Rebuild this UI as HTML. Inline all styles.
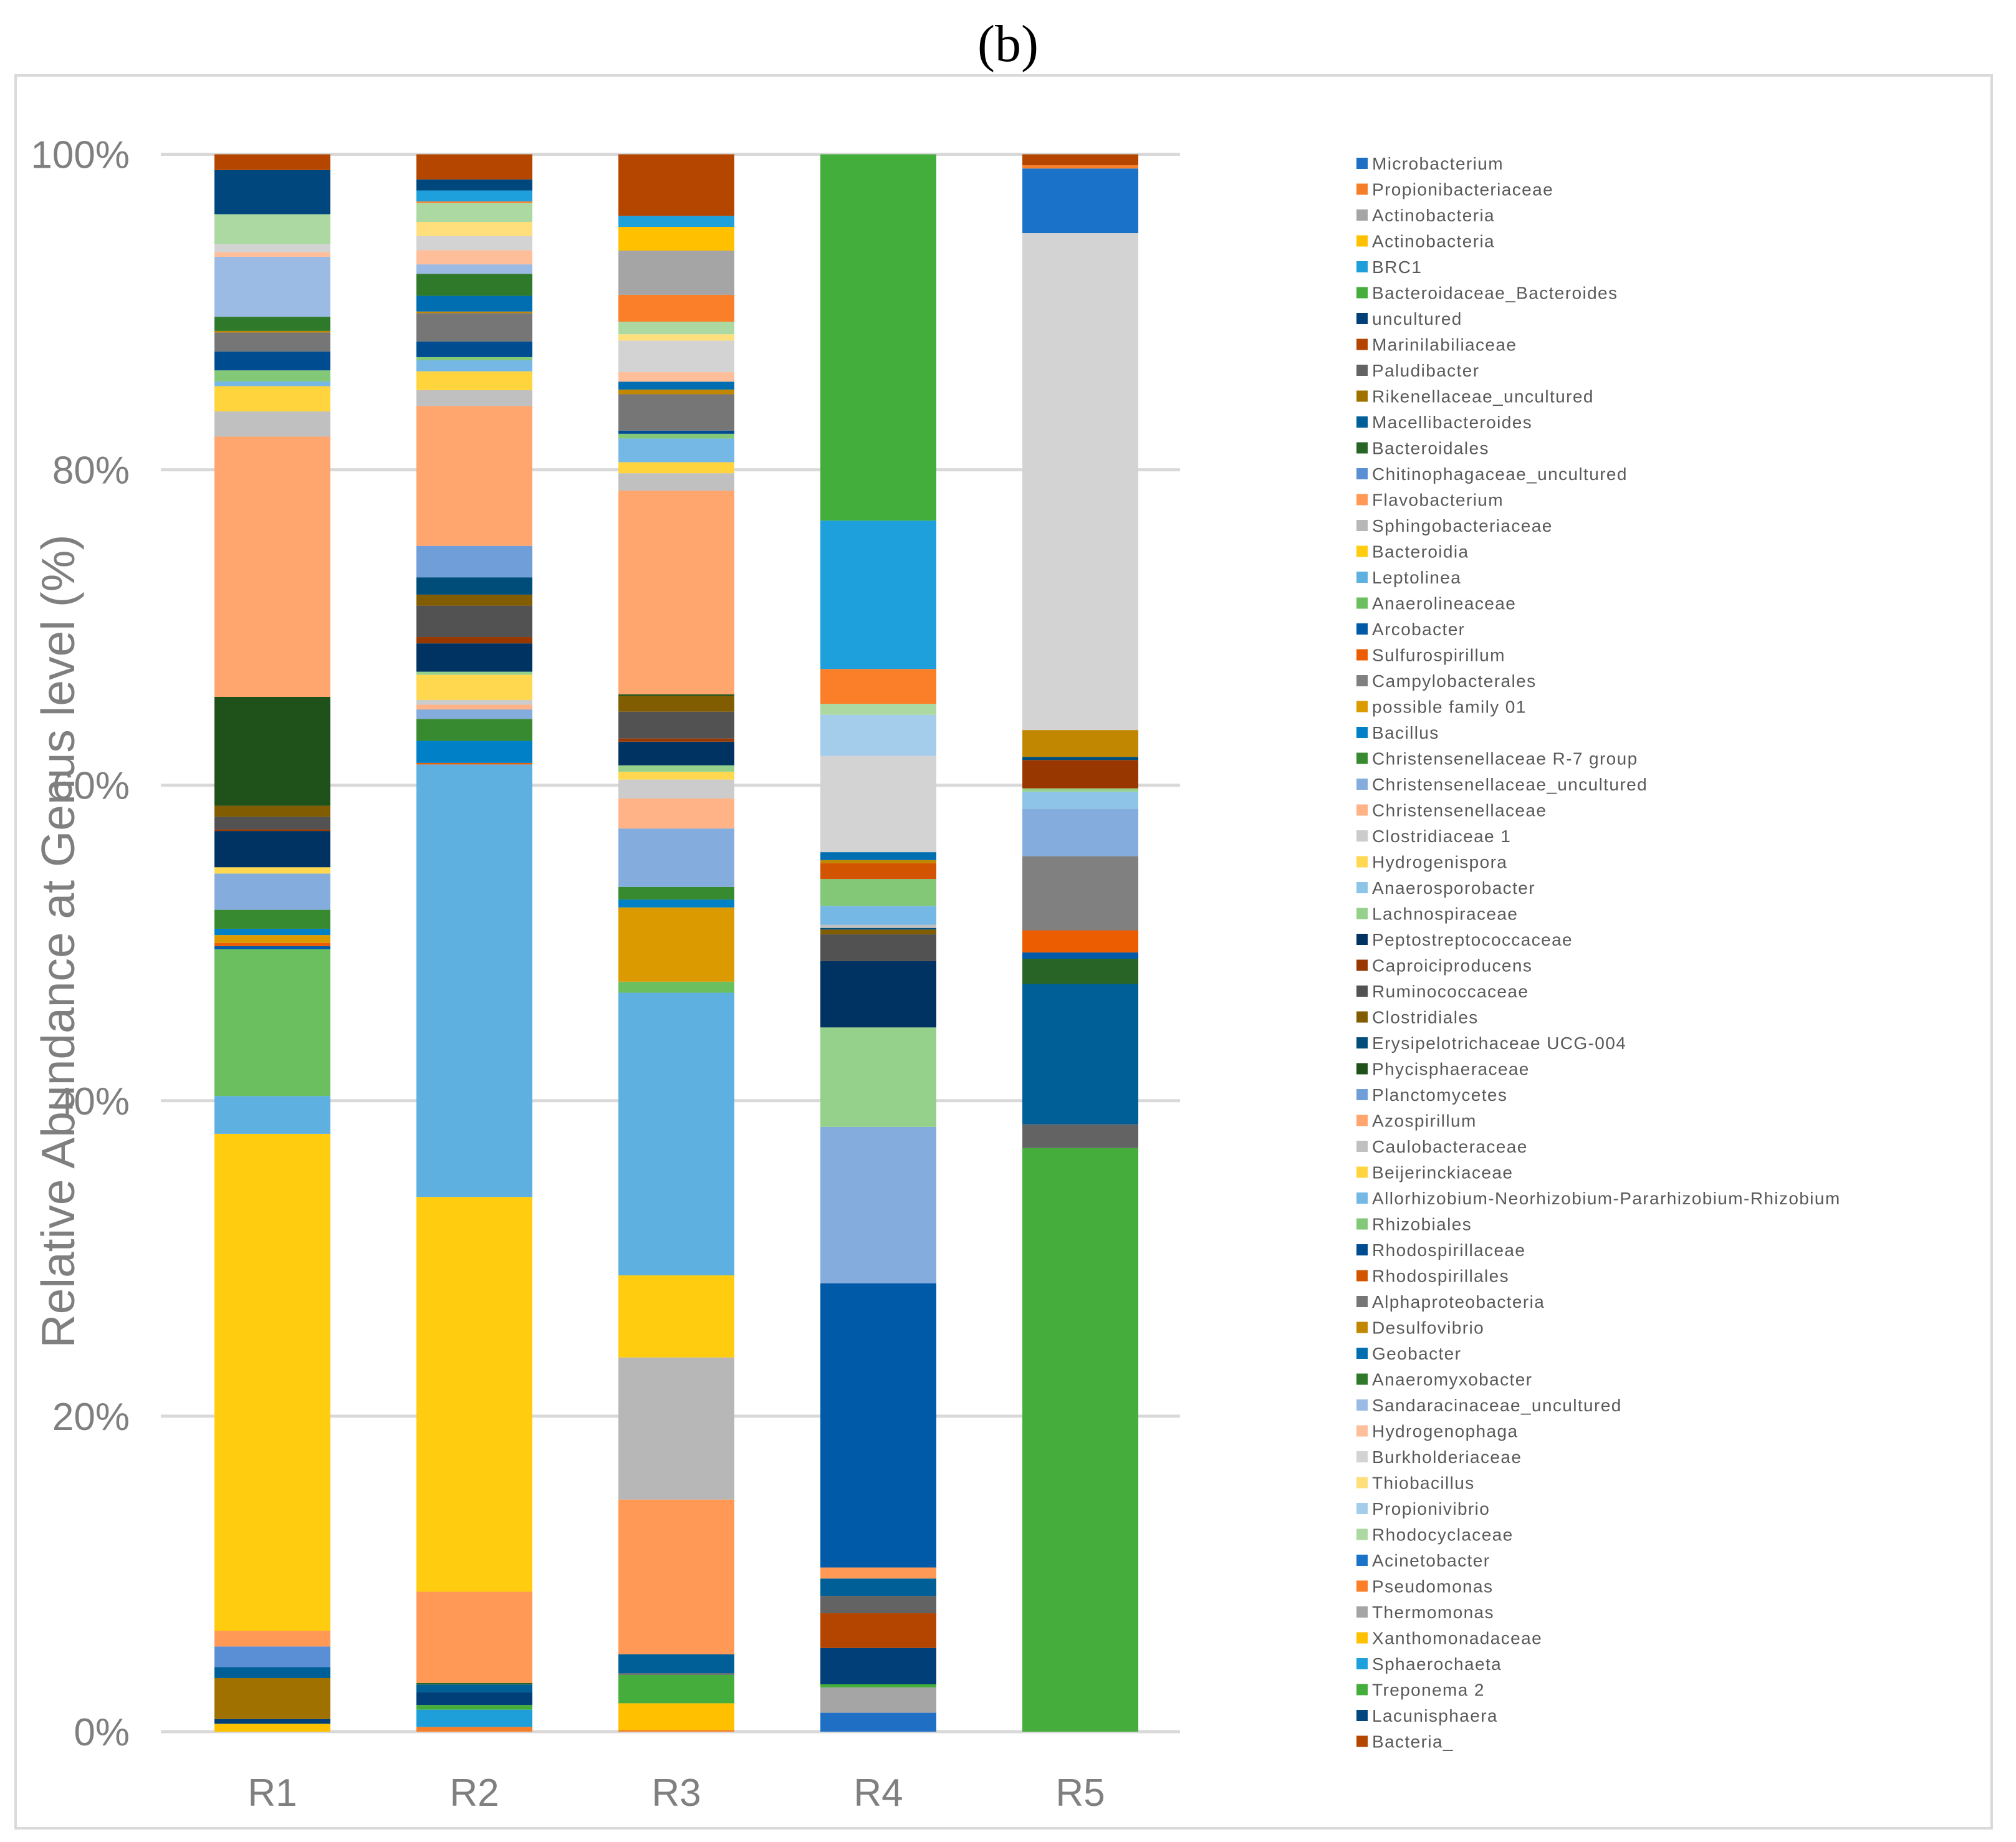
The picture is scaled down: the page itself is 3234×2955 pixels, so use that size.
<!DOCTYPE html>
<html><head><meta charset="utf-8">
<style>
html,body{margin:0;padding:0;background:#fff;}
svg{display:block;}
</style></head>
<body>
<svg id="chart" width="3234" height="2955" viewBox="0 0 3234 2955" xmlns="http://www.w3.org/2000/svg">
  <rect x="0" y="0" width="3234" height="2955" fill="#fff"/>
  <text x="1617" y="98" text-anchor="middle" font-family="Liberation Serif, serif" font-size="84" fill="#000">(b)</text>
  <rect x="25" y="121" width="3170" height="2812" fill="none" stroke="#d9d9d9" stroke-width="4"/>
  <g id="grid"></g>
  <g id="yticks"></g>
  <g id="bars"></g>
  <g id="xlabels"></g>
  <text transform="translate(119,1510) rotate(-90)" text-anchor="middle" font-family="Liberation Sans, sans-serif" font-size="75" fill="#7f7f7f">Relative Abundance at Genus level (%)</text>
  <g id="legend"></g>
</svg>
<script>
const categories = ["R1","R2","R3","R4","R5"];
const yTicks = [0,20,40,60,80,100];
const seriesNames = ["Microbacterium","Propionibacteriaceae","Actinobacteria","Actinobacteria","BRC1","Bacteroidaceae_Bacteroides","uncultured","Marinilabiliaceae","Paludibacter","Rikenellaceae_uncultured","Macellibacteroides","Bacteroidales","Chitinophagaceae_uncultured","Flavobacterium","Sphingobacteriaceae","Bacteroidia","Leptolinea","Anaerolineaceae","Arcobacter","Sulfurospirillum","Campylobacterales","possible family 01","Bacillus","Christensenellaceae R-7 group","Christensenellaceae_uncultured","Christensenellaceae","Clostridiaceae 1","Hydrogenispora","Anaerosporobacter","Lachnospiraceae","Peptostreptococcaceae","Caproiciproducens","Ruminococcaceae","Clostridiales","Erysipelotrichaceae UCG-004","Phycisphaeraceae","Planctomycetes","Azospirillum","Caulobacteraceae","Beijerinckiaceae","Allorhizobium-Neorhizobium-Pararhizobium-Rhizobium","Rhizobiales","Rhodospirillaceae","Rhodospirillales","Alphaproteobacteria","Desulfovibrio","Geobacter","Anaeromyxobacter","Sandaracinaceae_uncultured","Hydrogenophaga","Burkholderiaceae","Thiobacillus","Propionivibrio","Rhodocyclaceae","Acinetobacter","Pseudomonas","Thermomonas","Xanthomonadaceae","Sphaerochaeta","Treponema 2","Lacunisphaera","Bacteria_"];
const seriesColors = ["#1f6fc5","#f57f29","#a5a5a5","#ffc000","#1f9fd9","#44ad3b","#003f77","#b34500","#636363","#a17100","#005f96","#286426","#5b8fd5","#ff9955","#b7b7b7","#ffcc0f","#5eb0e0","#6cbf5f","#005aa8","#ec5c00","#808080","#db9a00","#0080c6","#388a30","#84acdc","#ffb387","#cccccc","#ffd84f","#8dc4e7","#96d18b","#003361","#983800","#525252","#825c00","#004d7a","#1f521a","#6f9ed8","#ffa56e","#c0c0c0","#ffd43c","#75b8e5","#82c877","#004c91","#d35400","#767676","#c28700","#006eb0","#2e7a2a","#9bbbe5","#ffbe9a","#d3d3d3","#ffdf7c","#a4cdec","#abd9a1","#1b73c9","#fb7e28","#a5a5a5","#ffc000","#1ea0dc","#44ae3c","#00477d","#b44600"];
const valuesR1 = [0,0,0,0.5,0,0,0.3,0,0,2.6, 0.7,0,1.3,1.0,0,31.5,2.4,9.3,0.2,0.2, 0,0.5,0.4,1.2,2.3,0,0,0.4,0,0, 2.3,0.1,0.8,0.7,0,6.9,0,16.5,1.6,1.6, 0.3,0.7,1.2,0,1.2,0.1,0,0.9,3.8,0.3, 0.5,0,0,1.9,0,0,0,0,0,0, 2.8,1.0];
const valuesR2 = [0,0.3,0,0,1.1,0.3,0.8,0,0,0, 0.5,0.1,0,5.8,0,25.1,27.5,0,0,0.1, 0,0,1.4,1.4,0.6,0.3,0.3,1.6,0,0.2, 1.8,0.4,2.0,0.7,1.1,0,2.0,8.9,1.0,1.2, 0.7,0.2,1.0,0,1.8,0.1,1.0,1.4,0.6,0.9, 0.9,0.9,0,1.2,0,0.1,0,0,0.7,0, 0.7,1.6];
const valuesR3 = [0,0.1,0,1.7,0,1.8,0,0,0.1,0, 1.2,0,0,9.8,9.0,5.2,17.9,0.7,0,0, 0,4.7,0.5,0.8,3.7,1.9,1.2,0.5,0,0.4, 1.5,0.2,1.7,1.0,0,0.1,0,12.9,1.1,0.7, 1.5,0.3,0.2,0,2.3,0.3,0.5,0,0,0.6, 2.0,0.4,0,0.8,0,1.7,2.8,1.5,0.7,0, 0,3.9];
const valuesR4 = [1.2,0,1.6,0,0,0.2,2.3,2.2,1.1,0, 1.1,0,0,0.7,0,0,0,0,18.0,0, 0,0,0,0,9.9,0,0,0,0,6.3, 4.2,0,1.7,0.3,0.1,0,0,0,0.2,0, 1.2,1.7,0,1.0,0,0.2,0.5,0,0,0, 6.1,0,2.6,0.7,0,2.2,0,0,9.4,23.2, 0,0];
const valuesR5 = [0,0,0,0,0,37.0,0,0,1.5,0, 8.9,1.6,0,0,0,0,0,0,0.4,1.4, 4.7,0,0,0,3.0,0,0,0,1.1,0.2, 0,1.8,0,0,0.2,0,0,0,0,0, 0,0,0,0,0,1.7,0,0,0,0, 31.5,0,0,0,4.1,0.2,0,0,0,0, 0,0.7];
const allValues = [valuesR1,valuesR2,valuesR3,valuesR4,valuesR5];

const NS = "http://www.w3.org/2000/svg";
const plotTop = 247.5, plotBottom = 2778, gridX0 = 258, gridX1 = 1893;
const barW = 186, firstCenter = 437, step = 324;
function yScale(p){ return plotBottom - (plotBottom - plotTop) * p / 100; }
function xCenter(i){ return firstCenter + i * step; }
function mk(tag, attrs, parent){ const e = document.createElementNS(NS, tag); for (const k in attrs) e.setAttribute(k, attrs[k]); parent.appendChild(e); return e; }

const grid = document.getElementById('grid');
const yt = document.getElementById('yticks');
yTicks.forEach(t => {
  const l = mk('line', {x1: gridX0, x2: gridX1, y1: yScale(t), y2: yScale(t), stroke: '#d9d9d9', 'stroke-width': 5}, grid);
  
  
  const tx = mk('text', {x: 208, y: yScale(t) + 22, 'text-anchor': 'end', 'font-family': 'Liberation Sans, sans-serif', 'font-size': 62, fill: '#7f7f7f'}, yt);
  tx.textContent = t + '%';
  
  
});

const bars = document.getElementById('bars');
const xl = document.getElementById('xlabels');
categories.forEach((c, i) => {
  const vals = allValues[i];
  const total = vals.reduce((a, b) => a + b, 0);
  const g = mk('g', {}, bars);
  
  
  let cum = 0;
  vals.forEach((v, k) => {
    if (v <= 0) return;
    const p0 = cum / total * 100, p1 = (cum + v) / total * 100;
    cum += v;
    const r = mk('rect', {x: xCenter(i) - barW / 2, y: yScale(p1), width: barW, height: yScale(p0) - yScale(p1), fill: seriesColors[k]}, g);
    
    
  });
  const tx = mk('text', {x: xCenter(i), y: 2897, 'text-anchor': 'middle', 'font-family': 'Liberation Sans, sans-serif', 'font-size': 62, fill: '#7f7f7f'}, xl);
  tx.textContent = c;
  
  
});

const leg = document.getElementById('legend');
const legY0 = 262, legStep = 41.5;
seriesNames.forEach((n, k) => {
  const g = mk('g', {}, leg);
  
  
  const cy = legY0 + k * legStep;
  mk('rect', {x: 2176, y: cy - 9, width: 18, height: 18, fill: seriesColors[k]}, g);
  const tx = mk('text', {x: 2201, y: cy + 10, 'font-family': 'Liberation Sans, sans-serif', 'font-size': 28, 'letter-spacing': 1.4, fill: '#595959'}, g);
  tx.textContent = n;
});
</script>
</body></html>
